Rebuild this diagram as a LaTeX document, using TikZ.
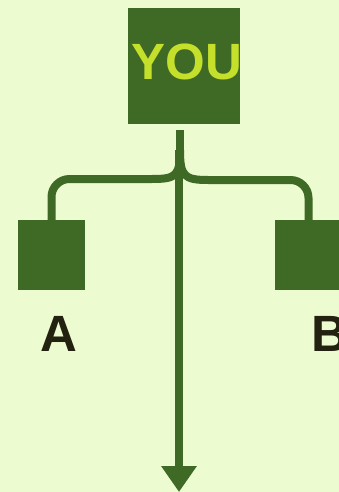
\documentclass[tikz,border=0pt]{standalone}
\usepackage{fontspec}
\setmainfont{Liberation Sans}
\usetikzlibrary{arrows.meta}
\definecolor{mint}{RGB}{237, 252, 208}
\definecolor{fern}{RGB}{63, 106, 38}
\definecolor{lime}{RGB}{196, 224, 42}
\definecolor{soot}{RGB}{35, 34, 17}
\tikzset{
    box/.style  = {fill=fern, inner sep=0pt},
    link/.style = {draw=fern, line width=8pt},
    tag/.style  = {text=soot, font=\bfseries\fontsize{51}{51}\selectfont, inner sep=0pt}
}

\begin{document}
\begin{tikzpicture}[x=1pt, y=-1pt]
            \fill[mint] (0, 0) rectangle (339, 492);
            \useasboundingbox (0, 0) rectangle (339, 492);
            \node[box, minimum width=112pt, minimum height=116pt] (you)  at (184.0,  66.0) {};
            \node[text=lime, font=\bfseries\fontsize{51}{51}\selectfont, inner sep=0pt] (youtext) at (187.0, 62.0) {YOU};
            \node[box, minimum width=67pt,  minimum height=70pt]  (a)    at ( 51.5, 255.0) {};
            \node[box, minimum width=67pt,  minimum height=70pt]  (b)    at (308.5, 255.0) {};
            \node[tag] (atag) at ( 59.0, 334.0) {A};
            \node[tag] (btag) at (330.0, 334.0) {B};
            \coordinate (split)  at (180.0, 150.0);
            \coordinate (bottom) at (179.0, 492.0);
            \draw[link] ([yshift=-6pt]you.south -| split) -- (split);
            \draw[link, -{Triangle[width=34pt, length=26pt]}] ([xshift=-1pt]split) -- (bottom);
            \draw[link] (split) .. controls (180, 176) and (176, 179) .. (152, 179) [rounded corners=18pt] -- (a.north |- 0, 179) -- (a.north);
            \draw[link] (split) .. controls (180, 176) and (184, 180) .. (208, 180) [rounded corners=18pt] -- (b.north |- 0, 180) -- (b.north);
\end{tikzpicture}
\end{document}
